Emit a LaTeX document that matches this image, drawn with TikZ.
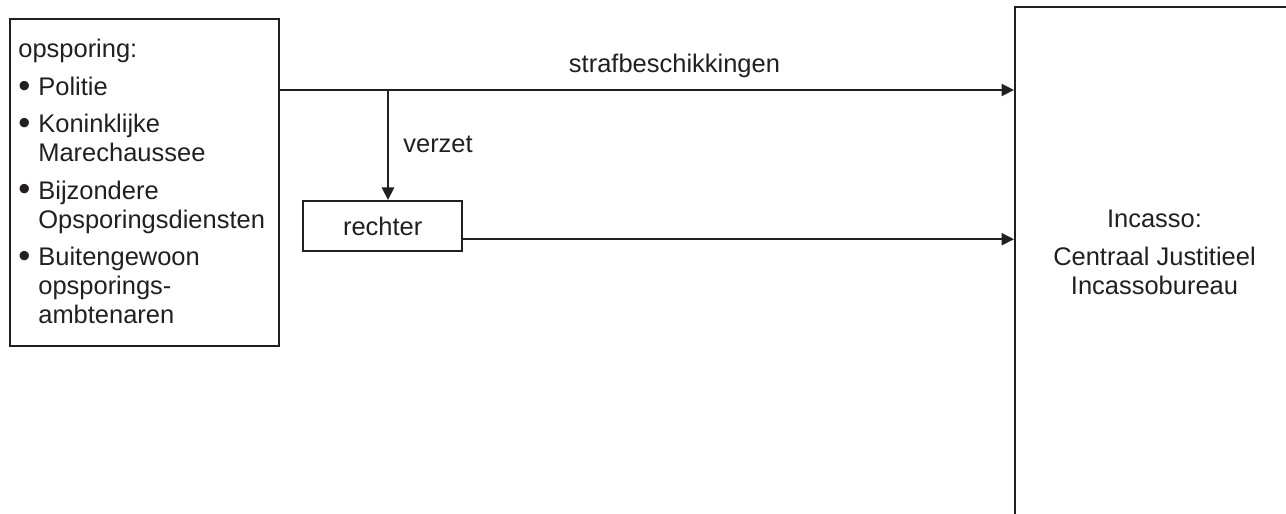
\documentclass[tikz,border=0pt]{standalone}
\usepackage{fontspec}
\setmainfont{Liberation Sans}
\usetikzlibrary{arrows.meta,positioning}
\definecolor{inkt}{HTML}{231F20}
\newcommand{\stip}{\raisebox{-0.9pt}{\scalebox{1.35}{\textbullet}}}
\tikzset{
  kader/.style={draw=inkt, line width=1.4pt, inner sep=0pt},
  pijl/.style={draw=inkt, line width=1.4pt, -{Triangle[length=0.25cm,width=0.24cm]}},
  tekst/.style={inner sep=0pt, text=inkt, font=\fontsize{14.5}{16.5}\selectfont}
}
\begin{document}
\begin{tikzpicture}
  \clip (0,0) rectangle (25.72,10.28); % picture frame, cuts the right box

  % Draw boxes
  \node[kader, anchor=north west, minimum width=5.38cm, minimum height=6.54cm] (opsporing) at (0.18,9.92) {};
  \node[kader, anchor=north west, minimum width=6.0cm, minimum height=10.8cm] (incasso) at (20.28,10.16) {};
  \node[kader, tekst, draw=inkt, anchor=north west, minimum width=3.18cm, minimum height=1.0cm] (rechter) at (6.04,6.28) {rechter};

  % Draw list in left box
  \node[tekst, anchor=base west] (lijst) at (0.36,9.12) {%
    \begin{tabular}[t]{@{}p{0.4cm}@{}l@{}}
      \multicolumn{2}{@{}l@{}}{opsporing:}\\[4.8pt]
      \stip & Politie\\[4.8pt]
      \stip & Koninklijke\\
            & Marechaussee\\[4.8pt]
      \stip & Bijzondere\\
            & Opsporingsdiensten\\[4.8pt]
      \stip & Buitengewoon\\
            & opsporings-\\
            & ambtenaren
    \end{tabular}};

  % Draw text in right box
  \node[tekst, anchor=base] (incassotekst) at (23.09,5.72) {%
    \begin{tabular}[t]{@{}c@{}}
      Incasso:\\[4.8pt]
      Centraal Justitieel\\
      Incassobureau
    \end{tabular}};

  % Draw arrows
  \coordinate (splitsing) at (7.76,8.48);
  \coordinate (uitspraak) at ([yshift=-0.26cm]rechter.east);
  \draw[pijl] (opsporing.east |- splitsing) -- (incasso.west |- splitsing);
  \draw[pijl] (splitsing) -- (splitsing |- rechter.north);
  \draw[pijl] (uitspraak) -- (uitspraak -| incasso.west);

  % Draw arrow labels
  \node[tekst, anchor=base] (straf) at (13.49,8.82) {strafbeschikkingen};
  \node[tekst, anchor=base west] (verzet) at (8.06,7.22) {verzet};
\end{tikzpicture}
\end{document}
